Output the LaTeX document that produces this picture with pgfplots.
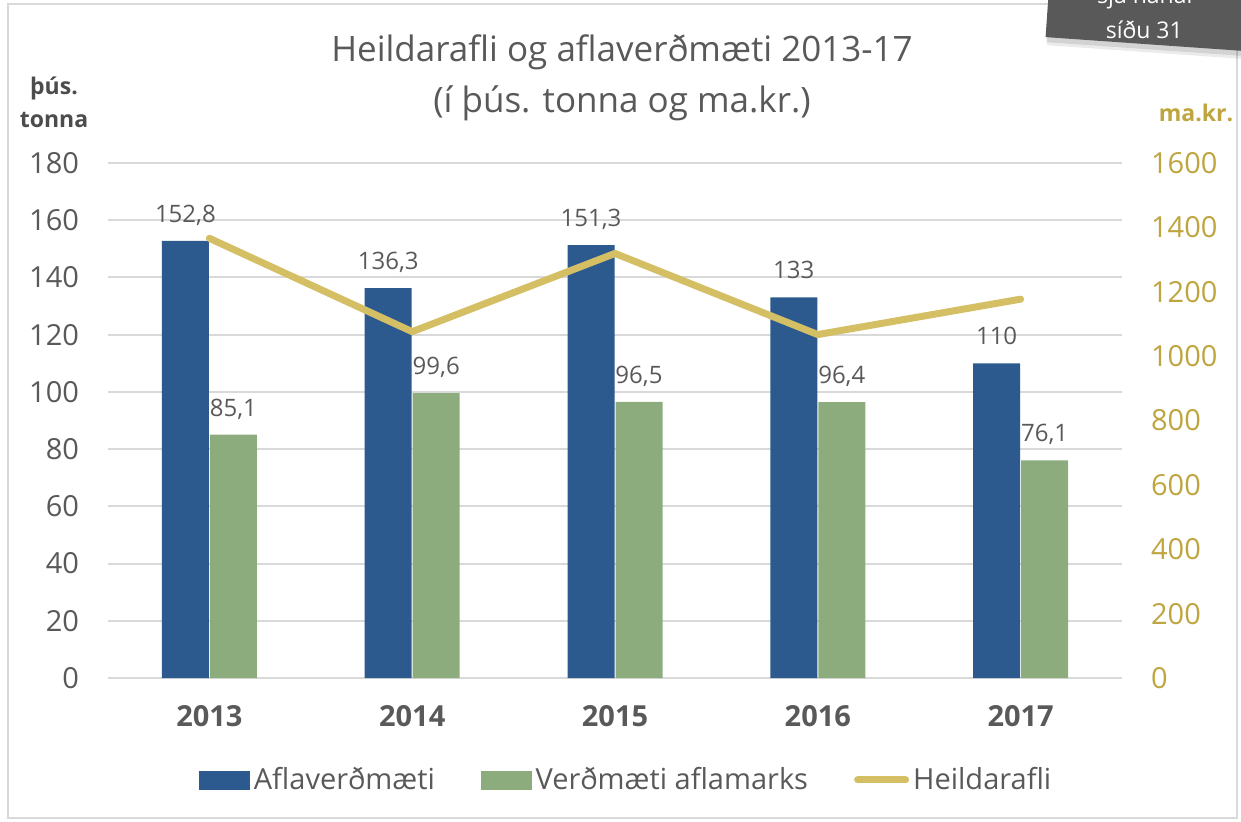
\documentclass[border=0pt]{standalone}
\usepackage{fontspec}
\setmainfont{Open Sans}
\usepackage{pgfplots}
\pgfplotsset{compat=1.18}
\definecolor{cblue}{HTML}{2C5A8F}
\definecolor{cgreen}{HTML}{8DAC7E}
\definecolor{cgold}{HTML}{D4BF65}
\definecolor{cgoldtxt}{HTML}{BFA53F}
\definecolor{ctxt}{HTML}{595959}
\definecolor{cgrid}{HTML}{D9D9D9}
\begin{document}
\begin{tikzpicture}
\useasboundingbox (0,0) rectangle (620.5pt,410.5pt);
\begin{axis}[
  at={(54pt,71.5pt)}, anchor=south west, scale only axis,
  width=507pt, height=257.5pt,
  xmin=-0.5, xmax=4.5, ymin=0, ymax=180,
  ytick={0,20,...,180}, xtick={0,...,4},
  xticklabels={2013,2014,2015,2016,2017},
  axis line style={draw=none}, major tick length=0pt,
  ymajorgrids, grid style={cgrid, line width=1pt},
  ticklabel style={font=\fontsize{14.5}{17}\selectfont, text=ctxt},
  xticklabel style={font=\fontsize{14.5}{17}\selectfont\bfseries, yshift=-10pt},
  yticklabel style={xshift=-11pt},
  /pgf/number format/assume math mode=true,
  /pgf/number format/use comma, /pgf/number format/1000 sep={},
  /pgf/number format/precision=1,
  bar width=23.5pt,
  nodes near coords,
  nodes near coords style={font=\fontsize{12}{14}\selectfont, text=ctxt, anchor=center, text height=8.5pt, text depth=0pt, yshift=13.5pt},
  legend columns=3,
  legend style={at={(0.512,-0.198)}, anchor=center, draw=none, fill=none,
    font=\fontsize{14.5}{17}\selectfont, text=ctxt,
    /tikz/every even column/.append style={column sep=21pt}},
]
\addplot[ybar, bar shift=-12pt, fill=cblue, draw=none, forget plot,
  every node near coord/.append style={xshift=-12pt}]
  coordinates {(0,152.8) (1,136.3) (2,151.3) (3,133) (4,110)};
\addplot[ybar, bar shift=12pt, fill=cgreen, draw=none, forget plot,
  every node near coord/.append style={xshift=12pt}]
  coordinates {(0,85.1) (1,99.6) (2,96.5) (3,96.4) (4,76.1)};
\addlegendimage{legend image code/.code={\fill[cblue] (0pt,-4.5pt) rectangle (25pt,4.5pt);}}
\addlegendentry{Aflaverðmæti}
\addlegendimage{legend image code/.code={\fill[cgreen] (0pt,-4.5pt) rectangle (25pt,4.5pt);}}
\addlegendentry{Verðmæti aflamarks}
\addlegendimage{legend image code/.code={\draw[cgold, line width=3.5pt, line cap=round] (0pt,0pt) -- (24pt,0pt);}}
\addlegendentry{Heildarafli}
\end{axis}
\begin{axis}[
  at={(54pt,71.5pt)}, anchor=south west, scale only axis,
  width=507pt, height=257.5pt,
  xmin=-0.5, xmax=4.5, ymin=0, ymax=1600,
  ytick={0,200,...,1600},
  axis x line=none, axis y line*=right,
  axis line style={draw=none}, major tick length=0pt,
  yticklabel style={font=\fontsize{14.5}{17}\selectfont, text=cgoldtxt, xshift=11pt},
  /pgf/number format/assume math mode=true,
  /pgf/number format/1000 sep={},
]
\addplot[cgold, line width=3.5pt, line cap=round, line join=round, mark=none]
  coordinates {(0,1366) (1,1076) (2,1319) (3,1067) (4,1177)};
\end{axis}
\begin{scope}[x=0.5pt, y=-0.5pt, shift={(0pt,410.5pt)}]
  \draw[cgrid, line width=1pt] (8,4) rectangle (1237,818);
  \node[font=\fontsize{17.5}{21}\selectfont, text=ctxt] at (622,52) {Heildarafli og aflaverðmæti 2013-17};
  \node[font=\fontsize{17.5}{21}\selectfont, text=ctxt] at (622,103) {(í þús. tonna og ma.kr.)};
  \node[font=\fontsize{11.5}{13}\selectfont\bfseries, text=ctxt!85!black] at (54,88) {þús.};
  \node[font=\fontsize{11.5}{13}\selectfont\bfseries, text=ctxt!85!black] at (54,120) {tonna};
  \node[font=\fontsize{11.5}{13}\selectfont\bfseries, text=cgoldtxt] at (1196,113) {ma.kr.};
  \begin{scope}[shift={(1145,20)}, rotate=-4]
    \fill[black, opacity=0.08] (-96,-80) rectangle (104,32);
    \fill[black, opacity=0.10] (-97,-80) rectangle (102,29);
    \fill[ctxt] (-98,-80) rectangle (100,24);
    \node[font=\fontsize{11.5}{13}\selectfont, text=white] at (0,10) {síðu 31};
    \node[font=\fontsize{11.5}{13}\selectfont, text=white] at (0,-23) {sjá nánar};
  \end{scope}
\end{scope}
\end{tikzpicture}
\end{document}
